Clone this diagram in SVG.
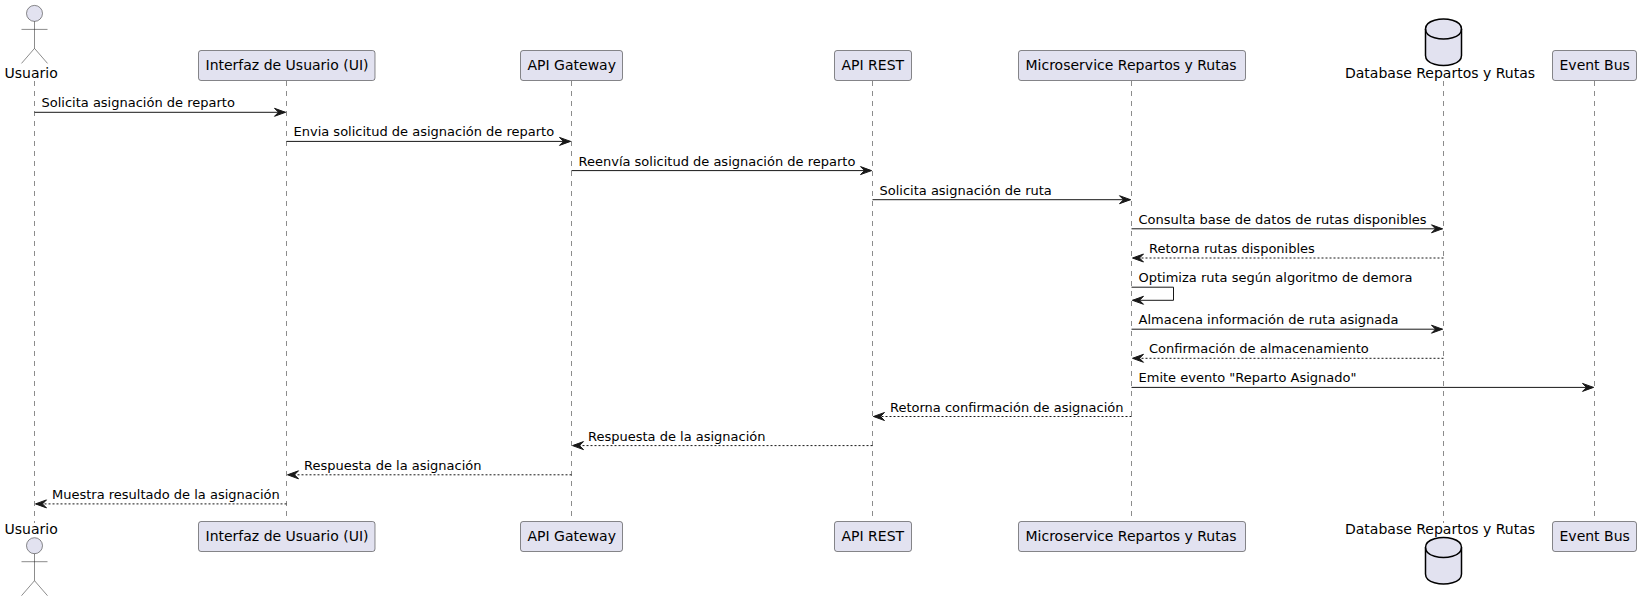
<svg xmlns="http://www.w3.org/2000/svg" width="1641" height="601" viewBox="0 0 1641 601">
<style>
text{font-family:"DejaVu Sans",sans-serif;fill:#000}
.p{font-size:14px}
.m{font-size:13px}
.box{fill:#E2E2F0;stroke:#181818;stroke-width:.5}
.act{fill:none;stroke:#181818;stroke-width:.5}
.head{fill:#E2E2F0;stroke:#181818;stroke-width:.5}
.db{fill:#E2E2F0;stroke:#000;stroke-width:1.5}
.dbl{fill:none;stroke:#000;stroke-width:1.5}
.life{stroke:#181818;stroke-width:.5;stroke-dasharray:5,5;fill:none}
.s{stroke:#181818;stroke-width:1;fill:none}
.d{stroke:#181818;stroke-width:1;stroke-dasharray:2,2;fill:none}
.a{fill:#181818;stroke:#181818;stroke-width:1}
</style>
<defs>
<polygon id="ar" class="a" points="-11,-4 0,0 -11,4 -7,0"/>
<polygon id="al" class="a" points="11,-4 0,0 11,4 7,0"/>
</defs>
<g id="lifelines">
<line class="life" x1="34.5" y1="81" x2="34.5" y2="523"/>
<line class="life" x1="286.5" y1="81" x2="286.5" y2="516"/>
<line class="life" x1="571.5" y1="81" x2="571.5" y2="516"/>
<line class="life" x1="872.5" y1="81" x2="872.5" y2="516"/>
<line class="life" x1="1131.5" y1="81" x2="1131.5" y2="516"/>
<line class="life" x1="1443.5" y1="81" x2="1443.5" y2="523"/>
<line class="life" x1="1594.5" y1="81" x2="1594.5" y2="516"/>
</g>
<g id="connectors">
<line class="s" x1="34.5" y1="112.3" x2="285.5" y2="112.3"/><use href="#ar" x="285.5" y="112.3"/>
<text class="m" x="41.5" y="107.3">Solicita asignación de reparto</text>
<line class="s" x1="286.5" y1="141.4" x2="570.5" y2="141.4"/><use href="#ar" x="570.5" y="141.4"/>
<text class="m" x="293.5" y="136.4">Envia solicitud de asignación de reparto</text>
<line class="s" x1="571.5" y1="170.6" x2="871.5" y2="170.6"/><use href="#ar" x="871.5" y="170.6"/>
<text class="m" x="578.5" y="165.6">Reenvía solicitud de asignación de reparto</text>
<line class="s" x1="872.5" y1="199.7" x2="1130.5" y2="199.7"/><use href="#ar" x="1130.5" y="199.7"/>
<text class="m" x="879.5" y="194.7">Solicita asignación de ruta</text>
<line class="s" x1="1131.5" y1="228.8" x2="1442.5" y2="228.8"/><use href="#ar" x="1442.5" y="228.8"/>
<text class="m" x="1138.5" y="223.8">Consulta base de datos de rutas disponibles</text>
<line class="d" x1="1443.5" y1="258" x2="1132.5" y2="258"/><use href="#al" x="1132.5" y="258"/>
<text class="m" x="1149" y="253">Retorna rutas disponibles</text>
<path class="s" d="M1131.5 287.2H1173.5V300.3H1132.5"/><use href="#al" x="1132.5" y="300.3"/>
<text class="m" x="1138.5" y="282.2">Optimiza ruta según algoritmo de demora</text>
<line class="s" x1="1131.5" y1="329.2" x2="1442.5" y2="329.2"/><use href="#ar" x="1442.5" y="329.2"/>
<text class="m" x="1138.5" y="324.2">Almacena información de ruta asignada</text>
<line class="d" x1="1443.5" y1="358.3" x2="1132.5" y2="358.3"/><use href="#al" x="1132.5" y="358.3"/>
<text class="m" x="1149" y="353.3">Confirmación de almacenamiento</text>
<line class="s" x1="1131.5" y1="387.4" x2="1593.5" y2="387.4"/><use href="#ar" x="1593.5" y="387.4"/>
<text class="m" x="1138.5" y="382.4">Emite evento "Reparto Asignado"</text>
<line class="d" x1="1131.5" y1="416.5" x2="873.5" y2="416.5"/><use href="#al" x="873.5" y="416.5"/>
<text class="m" x="890" y="411.5">Retorna confirmación de asignación</text>
<line class="d" x1="872.5" y1="445.6" x2="572.5" y2="445.6"/><use href="#al" x="572.5" y="445.6"/>
<text class="m" x="588" y="440.6">Respuesta de la asignación</text>
<line class="d" x1="571.5" y1="474.8" x2="287.5" y2="474.8"/><use href="#al" x="287.5" y="474.8"/>
<text class="m" x="304" y="469.8">Respuesta de la asignación</text>
<line class="d" x1="286.5" y1="503.9" x2="35.5" y2="503.9"/><use href="#al" x="35.5" y="503.9"/>
<text class="m" x="52" y="498.9">Muestra resultado de la asignación</text>
</g>
<g id="usuario-top">
<circle class="head" cx="34.5" cy="13.4" r="8"/>
<path class="act" d="M34.5 21.4V48.4M21.5 29.4H47.5M34.5 48.4L21.5 63.4M34.5 48.4L47.5 63.4"/>
<text class="p" x="4.5" y="78">Usuario</text>
</g>
<g id="ui-top"><rect class="box" x="198.5" y="50.5" width="176.5" height="30" rx="2.5"/><text class="p" x="205.5" y="70">Interfaz de Usuario (UI)</text></g>
<g id="gateway-top"><rect class="box" x="520.5" y="50.5" width="102" height="30" rx="2.5"/><text class="p" x="527.5" y="70">API Gateway</text></g>
<g id="rest-top"><rect class="box" x="834.5" y="50.5" width="77" height="30" rx="2.5"/><text class="p" x="841.5" y="70">API REST</text></g>
<g id="micro-top"><rect class="box" x="1018.5" y="50.5" width="227" height="30" rx="2.5"/><text class="p" x="1025.5" y="70">Microservice Repartos y Rutas</text></g>
<g id="db-top">
<path class="db" d="M1425.5 29C1425.5 19 1443.5 19 1443.5 19C1443.5 19 1461.5 19 1461.5 29V55.5C1461.5 65.5 1443.5 65.5 1443.5 65.5C1443.5 65.5 1425.5 65.5 1425.5 55.5Z"/>
<path class="dbl" d="M1425.5 29C1425.5 39 1443.5 39 1443.5 39C1443.5 39 1461.5 39 1461.5 29"/>
<text class="p" x="1345" y="78">Database Repartos y Rutas</text>
</g>
<g id="bus-top"><rect class="box" x="1552.5" y="50.5" width="84" height="30" rx="2.5"/><text class="p" x="1559.5" y="70">Event Bus</text></g>
<g id="usuario-bottom">
<text class="p" x="4.5" y="534">Usuario</text>
<circle class="head" cx="34.5" cy="545.7" r="8"/>
<path class="act" d="M34.5 553.7V580.7M21.5 561.7H47.5M34.5 580.7L21.5 595.7M34.5 580.7L47.5 595.7"/>
</g>
<g id="ui-bottom"><rect class="box" x="198.5" y="521.5" width="176.5" height="30" rx="2.5"/><text class="p" x="205.5" y="541">Interfaz de Usuario (UI)</text></g>
<g id="gateway-bottom"><rect class="box" x="520.5" y="521.5" width="102" height="30" rx="2.5"/><text class="p" x="527.5" y="541">API Gateway</text></g>
<g id="rest-bottom"><rect class="box" x="834.5" y="521.5" width="77" height="30" rx="2.5"/><text class="p" x="841.5" y="541">API REST</text></g>
<g id="micro-bottom"><rect class="box" x="1018.5" y="521.5" width="227" height="30" rx="2.5"/><text class="p" x="1025.5" y="541">Microservice Repartos y Rutas</text></g>
<g id="db-bottom">
<text class="p" x="1345" y="534">Database Repartos y Rutas</text>
<path class="db" d="M1425.5 547.5C1425.5 537.5 1443.5 537.5 1443.5 537.5C1443.5 537.5 1461.5 537.5 1461.5 547.5V574C1461.5 584 1443.5 584 1443.5 584C1443.5 584 1425.5 584 1425.5 574Z"/>
<path class="dbl" d="M1425.5 547.5C1425.5 557.5 1443.5 557.5 1443.5 557.5C1443.5 557.5 1461.5 557.5 1461.5 547.5"/>
</g>
<g id="bus-bottom"><rect class="box" x="1552.5" y="521.5" width="84" height="30" rx="2.5"/><text class="p" x="1559.5" y="541">Event Bus</text></g>
</svg>
